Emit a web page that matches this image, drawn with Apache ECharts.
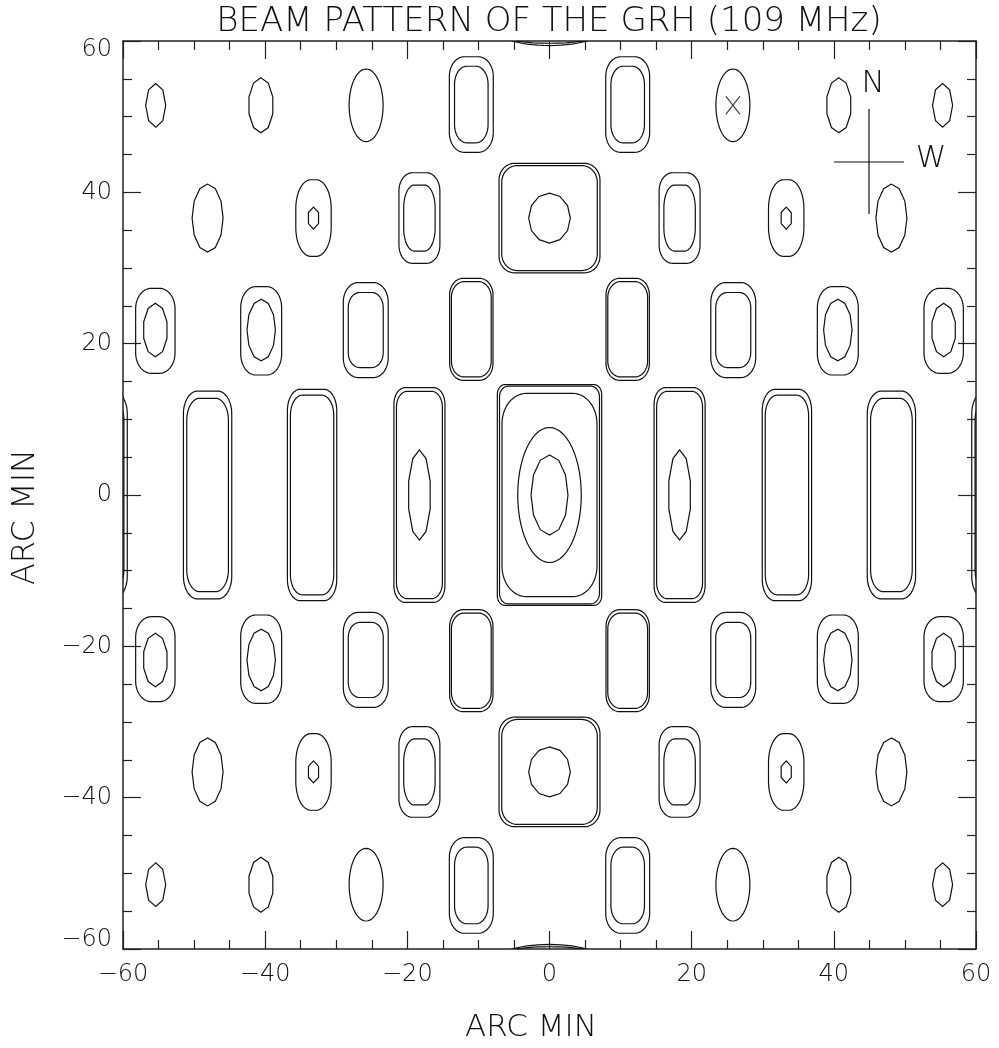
<!DOCTYPE html>
<html>
<head>
<meta charset="utf-8">
<script src="https://cdn.jsdelivr.net/npm/echarts@6/dist/echarts.min.js"></script>
<style>
html,body{margin:0;padding:0;background:#fff;}
#chart{width:999px;height:1048px;}
</style>
</head>
<body>
<div id="chart"></div>
<script>
// Each contour: [centreX, centreY, halfWidth, halfHeight, cornerRadiusX, cornerRadiusY, polygonSides(0 = smooth)]
// all in ARC MIN (data units)
const rowN52 = [
  [-55.4, 51.5, 1.41, 2.88, 1.41, 2.88, 8],
  [-40.6, 51.5, 1.76, 3.63, 1.76, 3.63, 10],
  [-25.8, 51.5, 2.39, 4.80, 2.39, 4.80, 0],
  [-11.0, 51.6, 3.09, 6.32, 2.10, 2.60, 0],
  [-11.0, 51.6, 2.36, 5.06, 1.70, 2.40, 0],
  [ 11.0, 51.6, 3.09, 6.32, 2.10, 2.60, 0],
  [ 11.0, 51.6, 2.36, 5.06, 1.70, 2.40, 0],
  [ 25.8, 51.5, 2.39, 4.80, 2.39, 4.80, 0],
  [ 40.7, 51.5, 1.76, 3.63, 1.76, 3.63, 10],
  [ 55.3, 51.5, 1.41, 2.88, 1.41, 2.88, 8]
];
const rowN37 = [
  [-48.1, 36.6, 2.18, 4.49, 2.18, 4.49, 12],
  [-33.2, 36.6, 2.49, 5.06, 2.10, 3.80, 0],
  [-33.2, 36.6, 0.82, 1.45, 0.82, 1.45, 6],
  [-18.3, 36.6, 2.88, 5.99, 1.90, 2.40, 0],
  [-18.3, 36.6, 2.21, 4.36, 1.50, 3.00, 0],
  [  0.0, 36.6, 7.10, 7.24, 2.20, 2.20, 0],
  [  0.0, 36.6, 6.72, 6.94, 2.20, 2.20, 0],
  [  0.0, 36.6, 2.93, 3.30, 2.93, 3.30, 12],
  [ 18.3, 36.6, 2.88, 5.99, 1.90, 2.40, 0],
  [ 18.3, 36.6, 2.21, 4.36, 1.50, 3.00, 0],
  [ 33.3, 36.6, 2.49, 5.06, 2.10, 3.80, 0],
  [ 33.3, 36.6, 0.82, 1.45, 0.82, 1.45, 6],
  [ 48.1, 36.6, 2.18, 4.49, 2.18, 4.49, 12]
];
const rowN22 = [
  [-55.45, 21.7, 2.77, 5.62, 2.20, 2.70, 0],
  [-55.45, 21.8, 1.72, 3.53, 1.72, 3.53, 10],
  [-40.56, 21.7, 2.88, 5.84, 2.10, 2.80, 0],
  [-40.56, 21.8, 2.00, 4.07, 2.00, 4.07, 12],
  [-25.85, 21.8, 3.16, 6.28, 2.10, 2.60, 0],
  [-25.85, 21.8, 2.46, 4.96, 1.60, 2.00, 0],
  [-11.0, 21.9, 3.05, 6.74, 1.90, 2.20, 0],
  [-11.0, 21.9, 2.80, 6.30, 1.80, 2.10, 0],
  [ 11.0, 21.9, 3.05, 6.74, 1.90, 2.20, 0],
  [ 11.0, 21.9, 2.80, 6.30, 1.80, 2.10, 0],
  [ 25.85, 21.8, 3.16, 6.28, 2.10, 2.60, 0],
  [ 25.85, 21.8, 2.46, 4.96, 1.60, 2.00, 0],
  [ 40.56, 21.7, 2.88, 5.84, 2.10, 2.80, 0],
  [ 40.56, 21.8, 2.00, 4.07, 2.00, 4.07, 12],
  [ 55.45, 21.7, 2.77, 5.62, 2.20, 2.70, 0],
  [ 55.45, 21.8, 1.72, 3.53, 1.72, 3.53, 10]
];
const row0 = [
  [-62.8, 0, 3.40, 13.74, 2.00, 3.00, 0],
  [-62.8, 0, 2.93, 12.78, 1.80, 2.90, 0],
  [-48.1, 0, 3.40, 13.74, 2.00, 3.00, 0],
  [-48.1, 0, 2.93, 12.78, 1.80, 2.90, 0],
  [-33.4, 0, 3.47, 13.97, 1.80, 2.80, 0],
  [-33.4, 0, 3.05, 13.20, 1.70, 2.70, 0],
  [-18.3, 0, 3.59, 14.20, 1.60, 2.20, 0],
  [-18.3, 0, 3.23, 13.70, 1.50, 2.10, 0],
  [-18.3, 0, 1.59, 5.95, 1.59, 5.95, 10],
  [  0.0, 0, 7.34, 14.60, 1.10, 1.30, 0],
  [  0.0, 0, 7.03, 14.38, 1.20, 1.40, 0],
  [  0.0, 0, 6.68, 13.44, 3.45, 4.00, 0],
  [  0.0, 0, 4.47, 8.92, 4.47, 8.92, 0],
  [  0.0, 0, 2.60, 5.29, 2.60, 5.29, 12],
  [ 18.3, 0, 3.59, 14.20, 1.60, 2.20, 0],
  [ 18.3, 0, 3.23, 13.70, 1.50, 2.10, 0],
  [ 18.3, 0, 1.59, 5.95, 1.59, 5.95, 10],
  [ 33.4, 0, 3.47, 13.97, 1.80, 2.80, 0],
  [ 33.4, 0, 3.05, 13.20, 1.70, 2.70, 0],
  [ 48.1, 0, 3.40, 13.74, 2.00, 3.00, 0],
  [ 48.1, 0, 2.93, 12.78, 1.80, 2.90, 0],
  [ 62.8, 0, 3.40, 13.74, 2.00, 3.00, 0],
  [ 62.8, 0, 2.93, 12.78, 1.80, 2.90, 0]
];
const rowS22 = [
  [-55.45, -21.7, 2.77, 5.62, 2.20, 2.70, 0],
  [-55.45, -21.8, 1.72, 3.53, 1.72, 3.53, 10],
  [-40.56, -21.7, 2.88, 5.84, 2.10, 2.80, 0],
  [-40.56, -21.8, 2.00, 4.07, 2.00, 4.07, 12],
  [-25.85, -21.8, 3.16, 6.28, 2.10, 2.60, 0],
  [-25.85, -21.8, 2.46, 4.96, 1.60, 2.00, 0],
  [-11.0, -21.9, 3.05, 6.74, 1.90, 2.20, 0],
  [-11.0, -21.9, 2.80, 6.30, 1.80, 2.10, 0],
  [ 11.0, -21.9, 3.05, 6.74, 1.90, 2.20, 0],
  [ 11.0, -21.9, 2.80, 6.30, 1.80, 2.10, 0],
  [ 25.85, -21.8, 3.16, 6.28, 2.10, 2.60, 0],
  [ 25.85, -21.8, 2.46, 4.96, 1.60, 2.00, 0],
  [ 40.56, -21.7, 2.88, 5.84, 2.10, 2.80, 0],
  [ 40.56, -21.8, 2.00, 4.07, 2.00, 4.07, 12],
  [ 55.45, -21.7, 2.77, 5.62, 2.20, 2.70, 0],
  [ 55.45, -21.8, 1.72, 3.53, 1.72, 3.53, 10]
];
const rowS37 = [
  [-48.1, -36.6, 2.18, 4.49, 2.18, 4.49, 12],
  [-33.2, -36.6, 2.49, 5.06, 2.10, 3.80, 0],
  [-33.2, -36.6, 0.82, 1.45, 0.82, 1.45, 6],
  [-18.3, -36.6, 2.88, 5.99, 1.90, 2.40, 0],
  [-18.3, -36.6, 2.21, 4.36, 1.50, 3.00, 0],
  [  0.0, -36.6, 7.10, 7.24, 2.20, 2.20, 0],
  [  0.0, -36.6, 6.72, 6.94, 2.20, 2.20, 0],
  [  0.0, -36.6, 2.93, 3.30, 2.93, 3.30, 12],
  [ 18.3, -36.6, 2.88, 5.99, 1.90, 2.40, 0],
  [ 18.3, -36.6, 2.21, 4.36, 1.50, 3.00, 0],
  [ 33.3, -36.6, 2.49, 5.06, 2.10, 3.80, 0],
  [ 33.3, -36.6, 0.82, 1.45, 0.82, 1.45, 6],
  [ 48.1, -36.6, 2.18, 4.49, 2.18, 4.49, 12]
];
const rowS52 = [
  [-55.4, -51.5, 1.41, 2.88, 1.41, 2.88, 8],
  [-40.6, -51.5, 1.76, 3.63, 1.76, 3.63, 10],
  [-25.8, -51.5, 2.39, 4.80, 2.39, 4.80, 0],
  [-11.0, -51.6, 3.09, 6.32, 2.10, 2.60, 0],
  [-11.0, -51.6, 2.36, 5.06, 1.70, 2.40, 0],
  [ 11.0, -51.6, 3.09, 6.32, 2.10, 2.60, 0],
  [ 11.0, -51.6, 2.36, 5.06, 1.70, 2.40, 0],
  [ 25.8, -51.5, 2.39, 4.80, 2.39, 4.80, 0],
  [ 40.7, -51.5, 1.76, 3.63, 1.76, 3.63, 10],
  [ 55.3, -51.5, 1.41, 2.88, 1.41, 2.88, 8]
];
const edgeArcs = [
  [0,  61.40, 7.3, 2.00, 7.3, 2.00, 0],
  [0,  60.86, 7.0, 1.16, 7.0, 1.16, 0],
  [0, -61.40, 7.3, 2.00, 7.3, 2.00, 0],
  [0, -60.86, 7.0, 1.16, 7.0, 1.16, 0]
];
const crossMarks = [[25.8, 51.5]];

const axisMin = -60, axisMax = 60, majorStep = 20;

const allContours = [].concat(rowN52, rowN37, rowN22, row0, rowS22, rowS37, rowS52, edgeArcs);

function outline(c) {
  const [cx, cy, a, b, rx, ry, seg] = c;
  const pts = [];
  if (seg > 0) {
    for (let k = 0; k < seg; k++) {
      const t = Math.PI / 2 + 2 * Math.PI * k / seg;
      pts.push([cx + a * Math.cos(t), cy + b * Math.sin(t)]);
    }
  } else {
    const n = 14;
    const corners = [[1, 1], [-1, 1], [-1, -1], [1, -1]];
    for (let q = 0; q < 4; q++) {
      const ccx = cx + corners[q][0] * (a - rx);
      const ccy = cy + corners[q][1] * (b - ry);
      for (let i = 0; i <= n; i++) {
        const t = q * Math.PI / 2 + (i / n) * Math.PI / 2;
        pts.push([ccx + rx * Math.cos(t), ccy + ry * Math.sin(t)]);
      }
    }
  }
  return pts;
}

const FONT = '"DejaVu Sans Light", "DejaVu Sans", sans-serif';
const fmt = v => String(v).replace('-', '\u2212');

const chart = echarts.init(document.getElementById('chart'), null, {renderer: 'canvas'});

const tickCommon = {
  axisLine: {show: true, onZero: false, lineStyle: {color: '#222', width: 1.5}},
  axisTick: {show: true, inside: true, length: 18, lineStyle: {color: '#222', width: 1.2}},
  minorTick: {show: true, splitNumber: 4, length: 9, lineStyle: {color: '#222', width: 1.2}},
  splitLine: {show: false},
  minorSplitLine: {show: false}
};

chart.setOption({
  animation: false,
  backgroundColor: '#fff',
  grid: {left: 123, right: 23, top: 41, bottom: 99, containLabel: false},
  xAxis: [
    Object.assign({type: 'value', position: 'bottom', min: axisMin, max: axisMax, interval: majorStep,
      axisLabel: {show: true, margin: 14, fontSize: 24, fontFamily: FONT, fontWeight: 200, color: '#111', formatter: fmt}}, tickCommon),
    Object.assign({type: 'value', position: 'top', min: axisMin, max: axisMax, interval: majorStep,
      axisLabel: {show: false}}, tickCommon)
  ],
  yAxis: [
    Object.assign({type: 'value', position: 'left', min: axisMin, max: axisMax, interval: majorStep,
      axisLabel: {show: true, margin: 11, fontSize: 24, fontFamily: FONT, fontWeight: 200, color: '#111',
        formatter: v => v === axisMax ? '{t|' + fmt(v) + '}' : (v === axisMin ? '{b|' + fmt(v) + '}' : fmt(v)),
        rich: {
          t: {padding: [18, 0, 0, 0], fontSize: 24, fontFamily: FONT, fontWeight: 200, color: '#111'},
          b: {padding: [0, 0, 18, 0], fontSize: 24, fontFamily: FONT, fontWeight: 200, color: '#111'}
        }}}, tickCommon),
    Object.assign({type: 'value', position: 'right', min: axisMin, max: axisMax, interval: majorStep,
      axisLabel: {show: false}}, tickCommon)
  ],
  series: [
    {
      type: 'custom',
      xAxisIndex: 0, yAxisIndex: 0,
      clip: true,
      silent: true,
      data: allContours,
      encode: {x: 0, y: 1},
      renderItem: function (params, api) {
        const c = allContours[params.dataIndex];
        const pts = outline(c).map(p => api.coord(p));
        return {type: 'polygon', shape: {points: pts},
          style: {fill: 'none', stroke: '#111', lineWidth: 1.2}};
      }
    },
    {
      type: 'scatter',
      xAxisIndex: 0, yAxisIndex: 0,
      silent: true,
      data: crossMarks,
      symbol: 'path://M0,0L14,18M14,0L0,18',
      symbolSize: [14, 18],
      itemStyle: {color: 'none', borderColor: '#111', borderWidth: 1.2}
    }
  ],
  graphic: [
    {type: 'text', x: 549, y: 22,
      style: {text: 'BEAM PATTERN OF THE GRH (109 MHz)', font: '200 34px ' + FONT, fill: '#111', textAlign: 'center', textVerticalAlign: 'middle'}},
    {type: 'text', x: 531, y: 1028,
      style: {text: 'ARC MIN', font: '200 31px ' + FONT, fill: '#111', textAlign: 'center', textVerticalAlign: 'middle'}},
    {type: 'text', x: 26, y: 517, rotation: Math.PI / 2,
      style: {text: 'ARC MIN', font: '200 32px ' + FONT, fill: '#111', textAlign: 'center', textVerticalAlign: 'middle'}},
    {type: 'line', shape: {x1: 869, y1: 109, x2: 869, y2: 214}, style: {stroke: '#111', lineWidth: 1.2}},
    {type: 'line', shape: {x1: 834, y1: 162, x2: 904, y2: 162}, style: {stroke: '#111', lineWidth: 1.2}},
    {type: 'text', x: 873, y: 84,
      style: {text: 'N', font: '200 31px ' + FONT, fill: '#111', textAlign: 'center', textVerticalAlign: 'middle'}},
    {type: 'text', x: 931, y: 159,
      style: {text: 'W', font: '200 31px ' + FONT, fill: '#111', textAlign: 'center', textVerticalAlign: 'middle'}}
  ]
});
</script>
</body>
</html>
